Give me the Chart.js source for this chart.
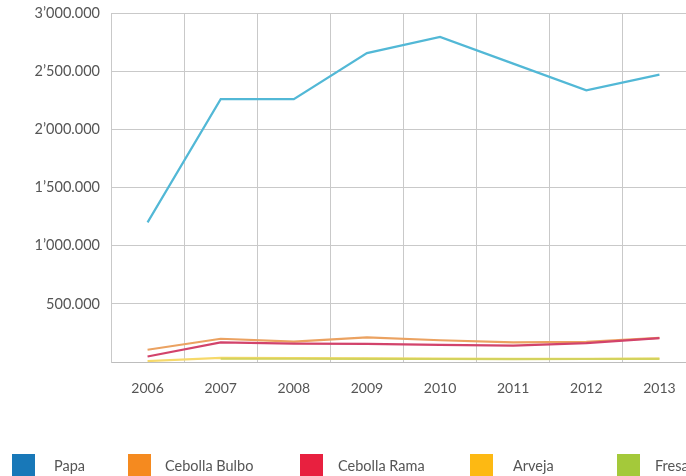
<!DOCTYPE html>
<html>
<head>
<meta charset="utf-8">
<script src="https://cdn.jsdelivr.net/npm/chart.js@4"></script>
<style>
  html, body { margin: 0; padding: 0; background: #fff; }
  body { width: 686px; height: 476px; overflow: hidden; position: relative; font-family: "Lato", sans-serif; }
  #wrap { position: absolute; left: 0; top: 0; width: 700px; height: 400px; }
  #legend { position: absolute; left: 0; top: 0; width: 686px; height: 476px; pointer-events: none; }
  .item { position: absolute; top: 454px; height: 24px; }
  .sw { position: absolute; left: 0; top: 0; width: 23px; height: 22px; }
  .lbl { position: absolute; top: 3px; font-size: 14.5px; color: #555; white-space: nowrap; }
</style>
</head>
<body>
<div id="wrap"><canvas id="chart" width="700" height="400"></canvas></div>
<div id="legend"></div>
<script>
const years = ["2006", "2007", "2008", "2009", "2010", "2011", "2012", "2013"];
const seriesNames = ["Papa", "Cebolla Bulbo", "Cebolla Rama", "Arveja", "Fresa"];

const papa = [1200000, 2260000, 2260000, 2655000, 2795000, 2565000, 2335000, 2470000];
const cebollaBulbo = [105000, 200000, 175000, 212000, 187000, 168000, 173000, 207000];
const cebollaRama = [47000, 168000, 158000, 155000, 148000, 140000, 163000, 205000];
const arveja = [8000, 35000, 33000, 31000, 29000, 28000, 28000, 30000];
const fresa = [null, 28000, 28000, 27000, 26000, 25000, 26000, 27000];

const yTicks = [0, 500000, 1000000, 1500000, 2000000, 2500000, 3000000];

const lineColors = ["#52b8d6", "#eba261", "#d2436b", "#f6d96a", "#d3d35e"];
const legendColors = ["#1878b8", "#f58a1f", "#e8203f", "#fdb913", "#a4c93a"];
const legendX = [12, 128, 300, 470, 617];
const labelX = [54, 165, 338, 513, 655];

function fmt(v) {
  if (v === 0) return "";
  const m = Math.floor(v / 1000000);
  const rest = v % 1000000;
  const k = String(Math.floor(rest / 1000)).padStart(3, "0");
  const u = String(rest % 1000).padStart(3, "0");
  if (m === 0) return Number(k) + "." + u;
  return m + "\u2019" + k + "." + u;
}

const allData = [papa, cebollaBulbo, cebollaRama, arveja, fresa];

const ctx = document.getElementById("chart").getContext("2d");
new Chart(ctx, {
  type: "line",
  data: {
    labels: years,
    datasets: allData.map((d, i) => ({
      label: seriesNames[i],
      data: d,
      borderColor: lineColors[i],
      backgroundColor: lineColors[i],
      borderWidth: 2.2,
      pointRadius: 0,
      tension: 0,
      spanGaps: false,
      order: 5 - i,
    })),
  },
  options: {
    responsive: false,
    animation: false,
    layout: { padding: { top: 13, right: 4, left: 0, bottom: 0 } },
    plugins: { legend: { display: false }, tooltip: { enabled: false } },
    scales: {
      x: {
        offset: true,
        grid: { offset: true, color: "#c9c9c9", lineWidth: 1, drawTicks: false },
        border: { color: "#bdbdbd" },
        ticks: { color: "#555", font: { family: "Lato", size: 14 }, padding: 18, maxRotation: 0 },
        afterFit: (s) => { s.height = 38; },
      },
      y: {
        min: 0,
        max: 3000000,
        afterBuildTicks: (s) => { s.ticks = yTicks.map((v) => ({ value: v })); },
        grid: { color: "#c9c9c9", lineWidth: 1, drawTicks: false },
        border: { color: "#c9c9c9" },
        ticks: { color: "#555", font: { family: "Lato", size: 14.5 }, padding: 11, callback: (v) => fmt(v) },
        afterFit: (s) => { s.width = 111; s.paddingTop = 0; s.paddingBottom = 0; },
      },
    },
  },
});

const legend = document.getElementById("legend");
seriesNames.forEach((name, i) => {
  const item = document.createElement("div");
  item.className = "item";
  item.style.left = legendX[i] + "px";
  const sw = document.createElement("div");
  sw.className = "sw";
  sw.style.background = legendColors[i];
  const lbl = document.createElement("div");
  lbl.className = "lbl";
  lbl.style.left = (labelX[i] - legendX[i]) + "px";
  lbl.textContent = name;
  item.appendChild(sw);
  item.appendChild(lbl);
  legend.appendChild(item);
});
</script>
</body>
</html>
